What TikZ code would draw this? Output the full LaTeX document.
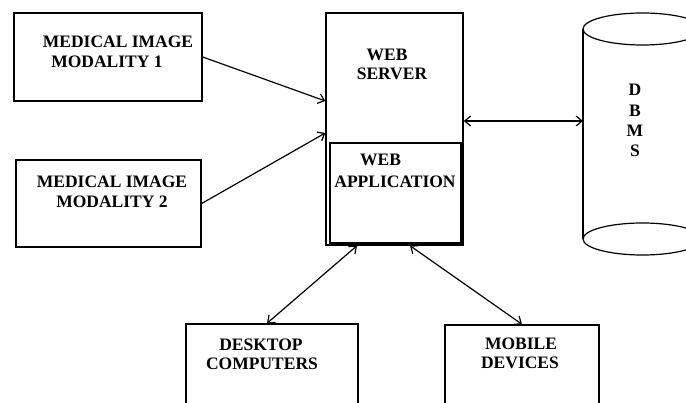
\documentclass[tikz,border=0pt]{standalone}
\usepackage{fontspec}
\setmainfont{Liberation Serif}
\usetikzlibrary{arrows.meta}
\begin{document}
\begin{tikzpicture}[x=1pt,y=-1pt,
  box/.style={draw,line width=1.4pt,inner sep=0pt,rectangle},
  lbl/.style={inner sep=0pt,anchor=center,font=\fontsize{17.5}{20}\selectfont\bfseries},
  conn/.style={line width=1.2pt,{Straight Barb[length=6pt,width=10pt]}-{Straight Barb[length=6pt,width=10pt]}},
  oneway/.style={line width=1.2pt,-{Straight Barb[length=6pt,width=10pt]}}]
\useasboundingbox (0,0) rectangle (686,403);
\clip (0,0) rectangle (686,403);
\fill[white] (0,0) rectangle (686,403);
% boxes
\node[box,minimum width=188pt,minimum height=88pt] (m1) at (108,57) {};
\node[box,minimum width=185pt,minimum height=87pt] (m2) at (108.5,203.5) {};
\node[box,minimum width=137pt,minimum height=232pt] (ws) at (394.5,129) {};
\node[box,line width=1.1pt,minimum width=131pt,minimum height=100pt] (wa) at (395.5,193) {};
\node[box,minimum width=172pt,minimum height=96pt] (dc) at (272,372) {};
\node[box,minimum width=154pt,minimum height=95pt] (md) at (522,372.5) {};
% cylinder
\draw[line width=1.2pt] (583,29) -- (583,239);
\draw[line width=1.2pt] (642.5,29) ellipse [x radius=59.5pt, y radius=16pt];
\draw[line width=1.2pt] (642.5,239) ellipse [x radius=59.5pt, y radius=16pt];
\coordinate (db) at (583,121);
% labels
\node[lbl] (t1a) at (118,42) {MEDICAL IMAGE};
\node[lbl] (t1b) at (107,62) {MODALITY 1};
\node[lbl] (t2a) at (112,182) {MEDICAL IMAGE};
\node[lbl] (t2b) at (112,202) {MODALITY 2};
\node[lbl] (t3a) at (387,55) {WEB};
\node[lbl] (t3b) at (392,74) {SERVER};
\node[lbl] (t4a) at (380.5,160) {WEB};
\node[lbl] (t4b) at (395,182) {APPLICATION};
\node[lbl] (t5a) at (261,345) {DESKTOP};
\node[lbl] (t5b) at (262,364) {COMPUTERS};
\node[lbl] (t6a) at (521,344) {MOBILE};
\node[lbl] (t6b) at (520,363) {DEVICES};
\node[lbl] (d1) at (635,90) {D};
\node[lbl] (d2) at (635,111) {B};
\node[lbl] (d3) at (635,131) {M};
\node[lbl] (d4) at (635,151) {S};
% connectors
\draw[oneway] (m1.east) -- ([yshift=28pt]ws.west);
\draw[oneway] (m2.east) -- ([yshift=-4pt]ws.west);
\draw[conn] ([yshift=8pt]ws.east) -- (db);
\draw[conn] ([xshift=-5pt]dc.north) -- ([xshift=-37.5pt]ws.south);
\draw[conn] ([xshift=15.5pt]ws.south) -- (md.north);
\end{tikzpicture}
\end{document}
